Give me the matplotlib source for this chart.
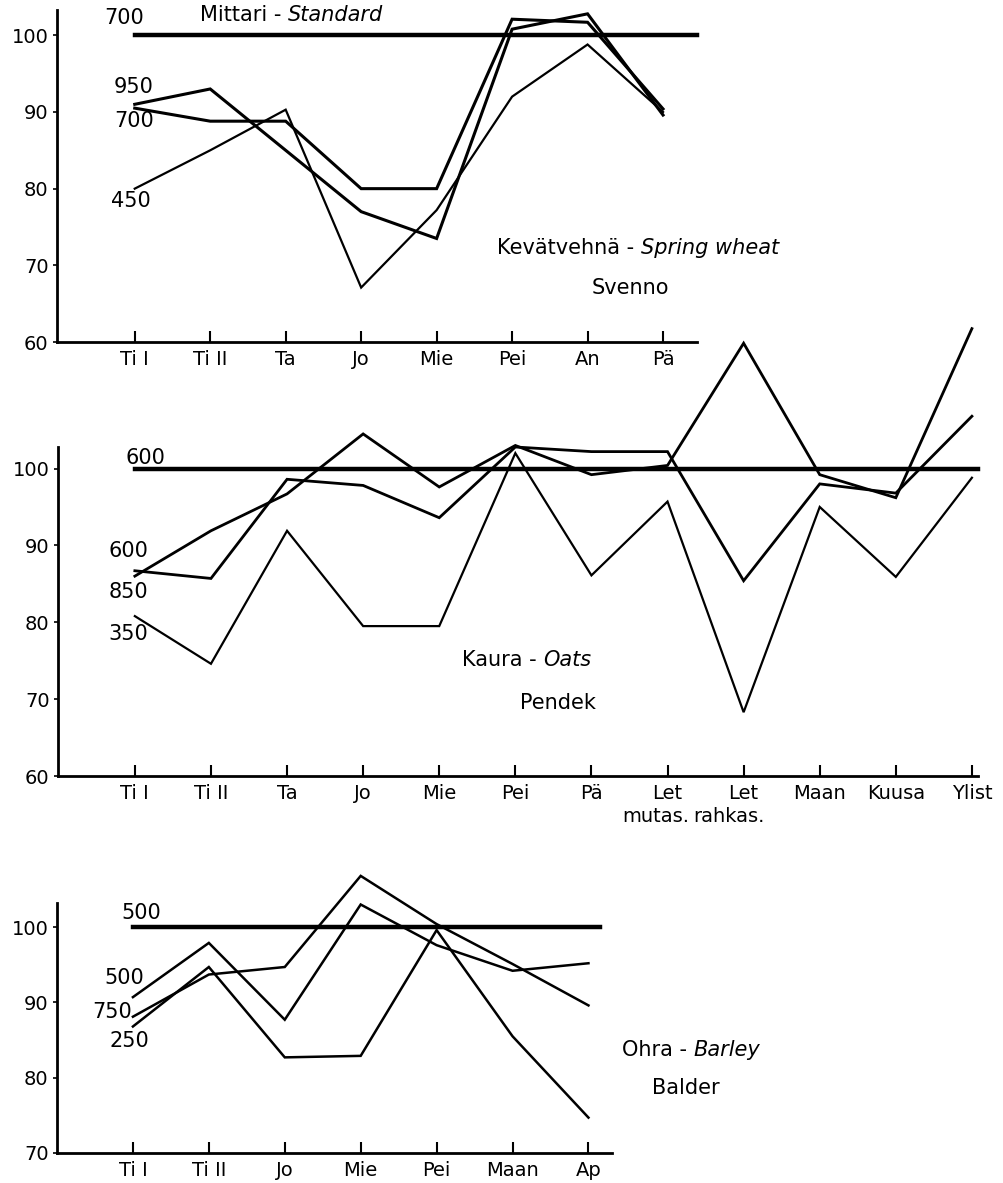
import matplotlib
matplotlib.use("Agg")
import matplotlib.pyplot as plt

# spring wheat (Kevätvehnä) - Svenno
wheat_cats = ["Ti I", "Ti II", "Ta", "Jo", "Mie", "Pei", "An", "Pä"]
wheat_950 = [91.0, 93.0, 85.0, 77.0, 73.5, 100.8, 102.8, 89.6]
wheat_700 = [90.5, 88.8, 88.8, 80.0, 80.0, 102.1, 101.7, 90.4]
wheat_450 = [80.0, 85.0, 90.3, 67.1, 77.2, 92.0, 98.8, 90.0]

# oats (Kaura) - Pendek
oats_cats = ["Ti I", "Ti II", "Ta", "Jo", "Mie", "Pei", "Pä", "Let", "Let",
             "Maan", "Kuusa", "Ylist"]
oats_600 = [86.7, 85.7, 98.6, 97.8, 93.6, 102.8, 102.2, 102.2, 85.4, 98.0, 96.8, 106.8]
oats_850 = [86.0, 91.9, 96.7, 104.5, 97.6, 103.0, 99.2, 100.4, 116.3, 99.2, 96.2, 118.2]
oats_350 = [80.8, 74.6, 91.9, 79.5, 79.5, 102.0, 86.1, 95.7, 68.3, 95.0, 85.9, 98.8]

# barley (Ohra) - Balder
barley_cats = ["Ti I", "Ti II", "Jo", "Mie", "Pei", "Maan", "Ap"]
barley_500 = [90.7, 97.9, 87.7, 103.0, 97.6, 94.2, 95.2]
barley_750 = [88.1, 93.7, 94.7, 106.8, 100.4, 95.1, 89.6]
barley_250 = [86.8, 94.7, 82.7, 82.9, 99.6, 85.5, 74.7]

W, H = 1004, 1183
fig = plt.figure(figsize=(W / 100, H / 100), dpi=100)
FS = 14    # tick labels
FT = 15    # notes inside the panels


def box(x0, y0, x1, y1):
    # pixel box -> figure fraction rect
    return [x0 / W, 1 - y1 / H, (x1 - x0) / W, (y1 - y0) / H]


def txt(x, y, s, ha="center"):
    return fig.text(x / W, 1 - y / H, s, ha=ha, va="center", fontsize=FT)


def two_part(x, y, s1, s2):
    # plain text followed by italic text
    t = txt(x, y, s1, ha="left")
    plt.annotate(s2, xy=(1, 0), xycoords=t, va="bottom", ha="left",
                 fontsize=FT, style="italic", annotation_clip=False)


def setup(ax, cats, ylim, yticks, xlim):
    ax.set_xlim(*xlim)
    ax.set_ylim(*ylim)
    ax.spines["top"].set_visible(False)
    ax.spines["right"].set_visible(False)
    for s in ["left", "bottom"]:
        ax.spines[s].set_linewidth(2.0)
    ax.set_xticks(range(len(cats)))
    ax.set_xticklabels(cats, fontsize=FS)
    ax.set_yticks(yticks)
    ax.set_yticklabels([str(v) for v in yticks], fontsize=FS)
    ax.tick_params(axis="x", direction="in", length=8, width=1.5, pad=6)
    ax.tick_params(axis="y", direction="out", length=3, width=1.2, pad=3)


def draw(ax, series, widths, std_end):
    for vals, lw in zip(series, widths):
        ax.plot(range(len(vals)), vals, color="black", lw=lw, clip_on=False,
                solid_joinstyle="miter")
    ax.plot([0, std_end], [100, 100], color="black", lw=3.2, clip_on=False)


# top panel
ax1 = fig.add_axes(box(57, 10, 697, 342))
setup(ax1, wheat_cats, (60, 103.3), [60, 70, 80, 90, 100], (-1.03, 7.45))
draw(ax1, [wheat_950, wheat_700, wheat_450], [2.2, 2.2, 1.6], 7.45)

# middle panel
ax2 = fig.add_axes(box(58, 447, 978, 776))
setup(ax2, oats_cats, (60, 102.8), [60, 70, 80, 90, 100], (-1.01, 11.08))
draw(ax2, [oats_600, oats_850, oats_350], [2.0, 2.0, 1.6], 11.08)
ax2.text(7.28, -0.095, "mutas.", transform=ax2.get_xaxis_transform(), ha="right",
         va="top", fontsize=FS)
ax2.text(7.34, -0.095, "rahkas.", transform=ax2.get_xaxis_transform(), ha="left",
         va="top", fontsize=FS)

# bottom panel
ax3 = fig.add_axes(box(57, 903, 612, 1153))
setup(ax3, barley_cats, (70, 103.2), [70, 80, 90, 100], (-1.0, 6.31))
draw(ax3, [barley_500, barley_750, barley_250], [1.8, 1.8, 1.8], 6.15)

# annotations
txt(124, 18, "700")
two_part(200, 15, "Mittari - ", "Standard")
txt(134, 87, "950")
txt(134, 121, "700")
txt(131, 201, "450")
two_part(497, 248, "Kevätvehnä - ", "Spring wheat")
txt(630, 288, "Svenno")

txt(145, 458, "600")
txt(128, 551, "600")
txt(128, 592, "850")
txt(128, 634, "350")
two_part(462, 660, "Kaura - ", "Oats")
txt(558, 703, "Pendek")

txt(141, 913, "500")
txt(124, 978, "500")
txt(112, 1012, "750")
txt(129, 1041, "250")
two_part(622, 1050, "Ohra - ", "Barley")
txt(686, 1088, "Balder")

fig.savefig("out.png", dpi=100)
